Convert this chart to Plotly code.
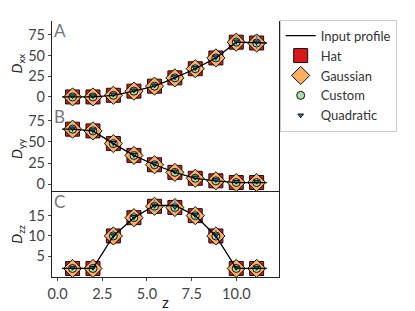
import plotly.graph_objects as go

z = [0.84, 1.98, 3.12, 4.27, 5.42, 6.56, 7.70, 8.85, 9.99, 11.13]
profile_z = [0.25, 0.84, 1.98, 3.12, 4.27, 5.42, 6.56, 7.70, 8.85, 9.99, 11.13, 11.7]

dxx_profile = [0, 0, 0, 2, 7, 13, 23, 34, 47, 66, 65, 65]
dyy_profile = [65, 65, 63, 48, 34, 23, 14, 7, 4, 2, 2, 2]
dzz_profile = [2, 2, 2, 10, 14.5, 17.5, 17.5, 15, 10, 2, 2, 2]

dxx = {
    "Hat": [0, 0, 2, 7, 13, 23, 34, 47, 66, 65],
    "Gaussian": [0, 0, 2, 7, 13, 23, 34, 47, 66, 65],
    "Custom": [0, 0, 2, 7, 13, 23, 34, 47, 66, 65],
    "Quadratic": [1, 1, 3, 8, 14, 24, 35, 48, 67, 66],
}
dyy = {
    "Hat": [65, 63, 48, 34, 23, 14, 7, 4, 2, 2],
    "Gaussian": [65, 63, 48, 34, 23, 14, 7, 4, 2, 2],
    "Custom": [65, 63, 48, 34, 23, 14, 7, 4, 2, 2],
    "Quadratic": [66, 64, 49, 35, 24, 15, 8, 5, 3, 3],
}
dzz = {
    "Hat": [2, 2, 10, 14.5, 17.3, 17.0, 15, 10, 2, 2],
    "Gaussian": [2, 2, 10, 14.5, 17.3, 17.0, 15, 10, 2, 2],
    "Custom": [2, 2, 10, 14.5, 17.3, 17.0, 15, 10, 2, 2],
    "Quadratic": [2.2, 2.2, 10.2, 14.7, 17.5, 17.2, 15.2, 10.2, 2.2, 2.2],
}
err_q = {
    "A": [2, 2, 3, 3, 3, 4, 4, 5, 6, 8],
    "B": [5, 5, 5, 4, 4, 3, 3, 3, 2, 2],
    "C": [0.5, 0.5, 1.2, 1.2, 1.5, 1.5, 1.2, 1.2, 0.5, 0.5],
}

styles = {
    "Hat": dict(symbol="square", size=14, color="#d7191c"),
    "Gaussian": dict(symbol="diamond", size=14, color="#fdae61"),
    "Custom": dict(symbol="circle", size=8, color="#abdda4"),
    "Quadratic": dict(symbol="triangle-down", size=5, color="#2b83ba"),
}
err_color = {"Hat": "#999999", "Gaussian": "#fdae61", "Custom": "#66bd63", "Quadratic": "#2b83ba"}
err_scale = {"Hat": 0.5, "Gaussian": 0.7, "Custom": 0.4, "Quadratic": 1.0}
rank = {"Hat": 2, "Gaussian": 3, "Custom": 4, "Quadratic": 5}

fig = go.Figure()
panels = [("A", dxx, dxx_profile, "y"), ("B", dyy, dyy_profile, "y2"), ("C", dzz, dzz_profile, "y3")]
for label, data, prof, yax in panels:
    first = label == "A"
    for name, vals in data.items():
        st = styles[name]
        fig.add_trace(go.Scatter(
            x=z, y=vals, mode="markers", name=name, yaxis=yax, xaxis="x",
            showlegend=first, legendrank=rank[name],
            marker=dict(symbol=st["symbol"], size=st["size"], color=st["color"],
                        line=dict(color="#111111", width=1)),
            error_y=dict(type="data", array=[e * err_scale[name] for e in err_q[label]],
                         color=err_color[name], thickness=1.2, width=0),
        ))
    fig.add_trace(go.Scatter(
        x=profile_z, y=prof, mode="lines", name="Input profile", yaxis=yax, xaxis="x",
        showlegend=first, legendrank=1,
        line=dict(color="black", width=1.3),
    ))

axis_common = dict(showline=True, linecolor="#222222", linewidth=1.2, mirror=True,
                   ticks="outside", ticklen=3, tickcolor="#444444", showgrid=False,
                   zeroline=False, automargin=False,
                   tickfont=dict(size=14.5, color="#444444"))
ytitle_font = dict(size=14, color="#222222")
fig.update_layout(
    width=415, height=311,
    margin=dict(l=52, r=136, t=21, b=34),
    plot_bgcolor="white", paper_bgcolor="white",
    font=dict(family="Lato", color="#333333"),
    xaxis=dict(range=[-0.31, 12.38], tickvals=[0, 2.5, 5, 7.5, 10],
               ticktext=["0.0", "2.5", "5.0", "7.5", "10.0"], anchor="y3",
               **axis_common),
    yaxis=dict(domain=[0.6667, 1.0], range=[-11.3, 91.5], tickvals=[0, 25, 50, 75],
               title=dict(text="<i>D</i><sub>xx</sub>", font=ytitle_font, standoff=2),
               **axis_common),
    yaxis2=dict(domain=[0.3333, 0.6667], range=[-8.8, 92], tickvals=[0, 25, 50, 75],
                title=dict(text="<i>D</i><sub>yy</sub>", font=ytitle_font, standoff=2),
                **axis_common),
    yaxis3=dict(domain=[0.0, 0.3333], range=[-0.1, 20.9], tickvals=[5, 10, 15],
                title=dict(text="<i>D</i><sub>zz</sub>", font=ytitle_font, standoff=2),
                **axis_common),
    legend=dict(x=1.003, y=1.005, xanchor="left", yanchor="top",
                bordercolor="#cccccc", borderwidth=1, bgcolor="white",
                font=dict(size=13, color="#333333"), tracegroupgap=0,
                itemsizing="trace", itemwidth=30),
)
fig.add_annotation(text="z", x=0.5, y=-0.098, xref="paper", yref="paper",
                   xanchor="center", yanchor="middle", showarrow=False,
                   font=dict(size=15, color="#222222"))
for label, yref in [("A", "y domain"), ("B", "y2 domain"), ("C", "y3 domain")]:
    fig.add_annotation(text=label, x=0.0, y=1.03, xref="x domain", yref=yref,
                       xanchor="left", yanchor="top", showarrow=False,
                       font=dict(size=17, color="#777777"))

fig.write_html("out.html", config={"displayModeBar": False},
               post_script="document.body.style.margin='0';")
